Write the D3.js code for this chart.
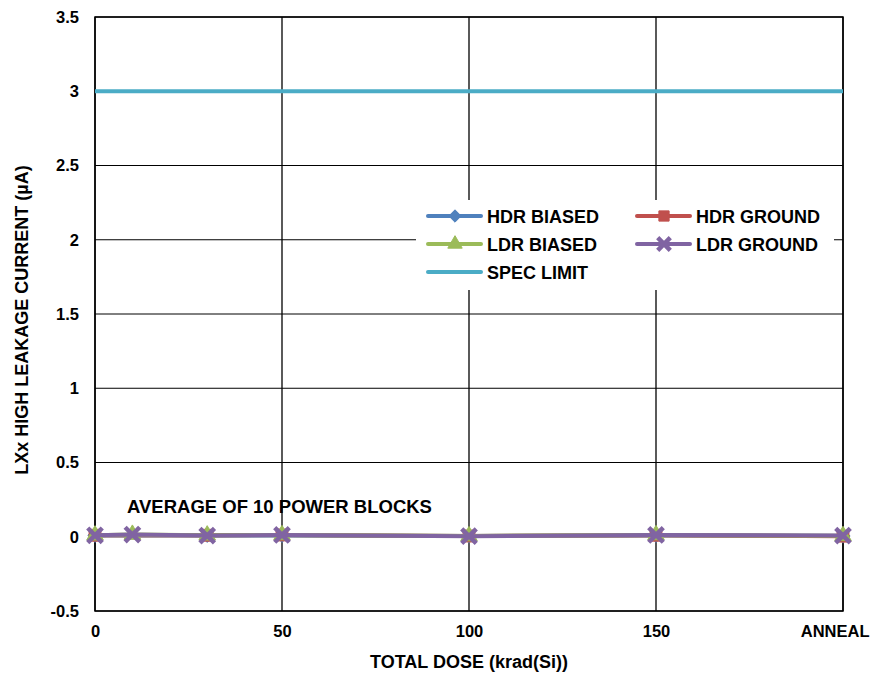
<!DOCTYPE html>
<html><head><meta charset="utf-8">
<script src="https://cdn.jsdelivr.net/npm/d3@7"></script>
<style>body{margin:0;background:#fff}text{font-family:"Liberation Sans",Arial,sans-serif;font-weight:bold}</style>
</head><body><svg id="c" width="872" height="675"></svg>
<script>
const xTicks = [0, 50, 100, 150, 200];
const xTickLabels = ["0", "50", "100", "150", "ANNEAL"];
const yTicks = [-0.5, 0, 0.5, 1, 1.5, 2, 2.5, 3, 3.5];
const hdrDoses = [0, 30, 50, 100, 150, 200];
const ldrDoses = [0, 10, 30, 50, 100, 150, 200];
const hdrBiased = [0.01, 0.01, 0.01, 0.005, 0.01, 0.005];
const hdrGround = [0.01, 0.01, 0.012, 0.005, 0.01, 0.004];
const ldrBiased = [0.01, 0.015, 0.01, 0.012, 0.005, 0.012, 0.006];
const ldrGround = [0.01, 0.015, 0.008, 0.012, 0.004, 0.012, 0.008];
const specLimit = 3;
const seriesNames = ["HDR BIASED", "HDR GROUND", "LDR BIASED", "LDR GROUND", "SPEC LIMIT"];
const colors = ["#4f81bd", "#c0504d", "#9bbb59", "#8064a2", "#4bacc6"];

const svg = d3.select("#c");
const L = 95, R = 843, T = 17, B = 611;
const x = d3.scaleLinear().domain([0, 200]).range([L, R]);
const y = d3.scaleLinear().domain([-0.5, 3.5]).range([B, T]);

// gridlines
svg.append("g").selectAll("line").data(yTicks).join("line")
  .attr("x1", L).attr("x2", R).attr("y1", d => y(d)).attr("y2", d => y(d))
  .attr("stroke", "#000").attr("stroke-width", 1);
svg.append("g").selectAll("line").data(xTicks).join("line")
  .attr("x1", d => x(d)).attr("x2", d => x(d)).attr("y1", T).attr("y2", B)
  .attr("stroke", "#000").attr("stroke-width", 1.3);
svg.append("rect").attr("x", L).attr("y", T).attr("width", R - L).attr("height", B - T)
  .attr("fill", "none").attr("stroke", "#000").attr("stroke-width", 1.5);

// axes labels via d3 axes
const yAxis = svg.append("g").attr("transform", `translate(${L},0)`)
  .call(d3.axisLeft(y).tickValues(yTicks).tickFormat(d => String(d)).tickSize(0).tickPadding(16));
yAxis.select(".domain").remove();
yAxis.selectAll("text").attr("font-size", 16.5).attr("font-family", "Liberation Sans, Arial, sans-serif").attr("font-weight", "bold");
const xAxis = svg.append("g").attr("transform", `translate(0,${B})`)
  .call(d3.axisBottom(x).tickValues(xTicks).tickFormat((d, i) => xTickLabels[i]).tickSize(0).tickPadding(14));
xAxis.select(".domain").remove();
xAxis.selectAll("text").attr("font-size", 16.5).attr("font-family", "Liberation Sans, Arial, sans-serif").attr("font-weight", "bold");
xAxis.selectAll(".tick").filter(d => d === 200).select("text").attr("text-anchor", "end").attr("dx", 26);

svg.append("text").attr("x", x(100)).attr("y", 668).attr("text-anchor", "middle")
  .attr("font-size", 18).text("TOTAL DOSE (krad(Si))");
svg.append("text").attr("transform", `translate(28,${(T + B) / 2 + 6}) rotate(-90)`).attr("text-anchor", "middle")
  .attr("font-size", 18).text("LXx HIGH LEAKAGE CURRENT (µA)");

svg.append("text").attr("x", 127).attr("y", 513).attr("font-size", 18.5).text("AVERAGE OF 10 POWER BLOCKS");

// spec limit
svg.append("line").attr("x1", x(0)).attr("x2", x(200)).attr("y1", y(specLimit)).attr("y2", y(specLimit))
  .attr("stroke", colors[4]).attr("stroke-width", 4);

const symbols = [d3.symbolDiamond2, d3.symbolSquare, d3.symbolTriangle, d3.symbolX];
const symSizes = [130, 140, 120, 140];
const series = [
  {xs: hdrDoses, ys: hdrBiased}, {xs: hdrDoses, ys: hdrGround},
  {xs: ldrDoses, ys: ldrBiased}, {xs: ldrDoses, ys: ldrGround}
];
function drawMarker(g, i, cx, cy, scale) {
  const p = d3.symbol().type(symbols[i]).size(symSizes[i] * (scale || 1))();
  const m = g.append("path").attr("d", p).attr("transform", `translate(${cx},${cy})`);
  if (i === 3) m.attr("fill", "none").attr("stroke", colors[i]).attr("stroke-width", 4.5);
  else m.attr("fill", colors[i]).attr("stroke", colors[i]).attr("stroke-width", 1).attr("stroke-linejoin", "round");
}
series.forEach((s, i) => {
  const pts = s.xs.map((d, j) => [d, s.ys[j]]);
  svg.append("path").datum(pts).attr("fill", "none").attr("stroke", colors[i]).attr("stroke-width", 4)
    .attr("d", d3.line().x(d => x(d[0])).y(d => y(d[1])));
  const g = svg.append("g");
  pts.forEach(p => drawMarker(g, i, x(p[0]), y(p[1])));
});

// legend
const lg = svg.append("g");
lg.append("rect").attr("x", 416).attr("y", 200).attr("width", 418).attr("height", 90).attr("fill", "#fff");
const legPos = [[428, 216], [637, 216], [428, 244], [637, 244], [428, 272]];
seriesNames.forEach((n, i) => {
  const [lx, ly] = legPos[i];
  lg.append("line").attr("x1", lx).attr("x2", lx + 53).attr("y1", ly).attr("y2", ly)
    .attr("stroke", colors[i]).attr("stroke-width", 4).attr("stroke-linecap", "round");
  if (i < 4) drawMarker(lg, i, lx + 27, ly, 0.75);
  lg.append("text").attr("x", lx + 59).attr("y", ly + 6.5).attr("font-size", 18).text(n);
});
</script></body></html>
